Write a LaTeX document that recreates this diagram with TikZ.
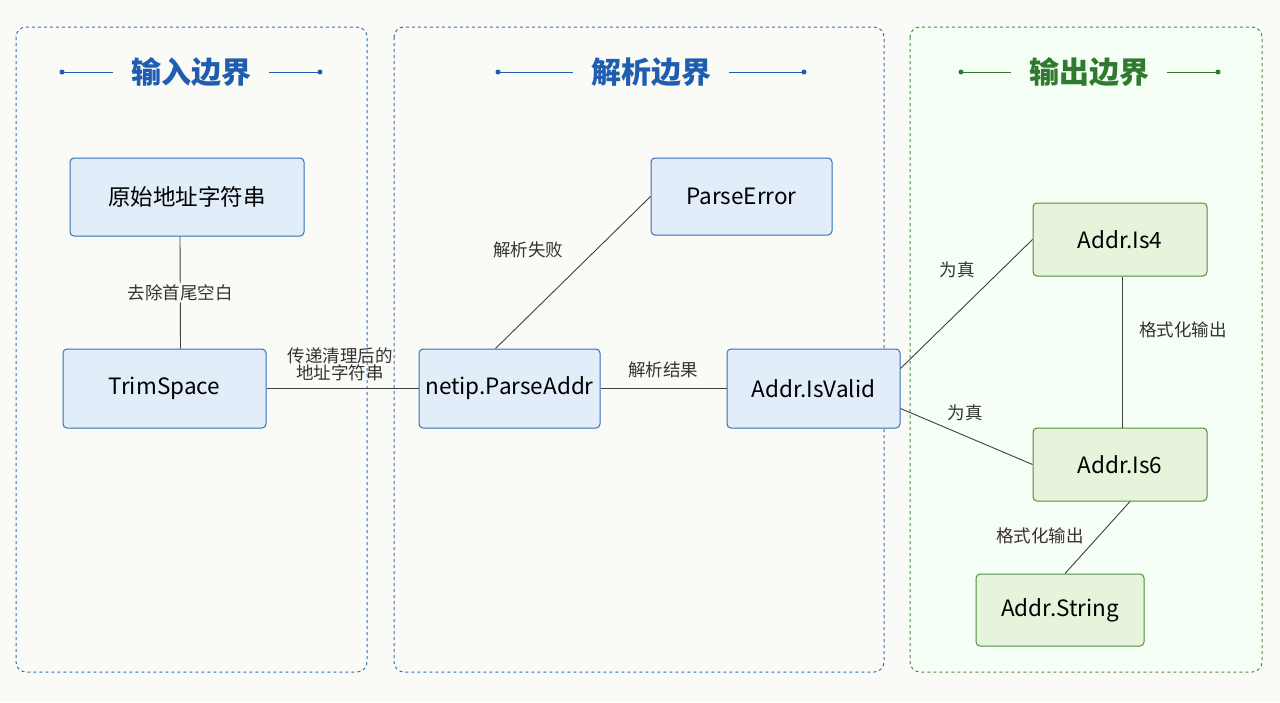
\documentclass[tikz,border=0pt]{standalone}
\usepackage{fontspec}
\setmainfont{Noto Sans CJK SC}
\begin{document}
\begin{tikzpicture}[x=1pt,y=-1pt,
  bnode/.style={draw=nblue,fill=nfill,rounded corners=4pt,line width=1pt,inner sep=0pt,font=\fontsize{22.5}{26}\selectfont},
  gnode/.style={draw=ngreen,fill=gfill,rounded corners=4pt,line width=1pt,inner sep=0pt,font=\fontsize{22.5}{26}\selectfont},
  lbl/.style={font=\fontsize{17.5}{21}\selectfont,text=black!80,fill=bg,inner sep=1.5pt,align=center},
  conn/.style={line width=0.9pt,draw=black!75},
  panel/.style={draw=#1,dashed,line width=1pt,rounded corners=10pt}]
\definecolor{bg}{HTML}{FAFAF6}
\definecolor{nblue}{HTML}{3470B8}
\definecolor{nfill}{HTML}{E2EDFA}
\definecolor{ngreen}{HTML}{4E8E3E}
\definecolor{gfill}{HTML}{E6F4DC}
\definecolor{tblue}{HTML}{1E5DB0}
\definecolor{tgreen}{HTML}{2E7A2E}
\fill[bg] (0,0) rectangle (1280,702);
\useasboundingbox (0,0) rectangle (1280,702);
\draw[panel=nblue] (16,27) rectangle (367,672);
\draw[panel=nblue] (394,27) rectangle (884,672);
\draw[panel=ngreen,fill=green!4] (910,27) rectangle (1262,672);
% titles
\node[font=\bfseries\fontsize{30}{34}\selectfont,text=tblue] (t1) at (191,72) {输入边界};
\node[font=\bfseries\fontsize{30}{34}\selectfont,text=tblue] (t2) at (651,72) {解析边界};
\node[font=\bfseries\fontsize{30}{34}\selectfont,text=tgreen] (t3) at (1089,72) {输出边界};
\foreach \c/\a/\b/\col in {191/62/320/tblue,651/498/804/tblue,1089/961/1218/tgreen}{
  \draw[\col,line width=1pt] (\a,72) -- (\c-78,72);
  \draw[\col,line width=1pt] (\c+78,72) -- (\b,72);
  \fill[\col] (\a,72) circle (2.5pt);
  \fill[\col] (\b,72) circle (2.5pt);
}
% nodes
\node[bnode,minimum width=234pt,minimum height=78pt] (raw) at (187,197) {原始地址字符串};
\node[bnode,minimum width=203pt,minimum height=79pt] (trim) at (164.5,388.5) {TrimSpace};
\node[bnode,minimum width=181pt,minimum height=79pt] (parse) at (509.5,388.5) {netip.ParseAddr};
\node[bnode,minimum width=181pt,minimum height=77pt] (perr) at (741.5,196.5) {ParseError};
\node[bnode,minimum width=173pt,minimum height=79pt] (valid) at (813.5,388.5) {Addr.IsValid};
\node[gnode,minimum width=174pt,minimum height=73pt] (is4) at (1120,239.5) {Addr.Is4};
\node[gnode,minimum width=174pt,minimum height=73pt] (is6) at (1120,464.5) {Addr.Is6};
\node[gnode,minimum width=168pt,minimum height=72pt] (str) at (1060,610) {Addr.String};
% edges
\draw[conn] ([xshift=-7pt]raw.south) -- ([xshift=16pt]trim.north) node[lbl,pos=0.5] {去除首尾空白};
\draw[conn] (trim) -- (parse);
\node[lbl,fill=none] (l2) at (340,364) {传递清理后的\\[-4pt]地址字符串};
\draw[conn] ([xshift=-14pt]parse.north) -- (perr.west);
\node[lbl] (l3) at (528,250) {解析失败};
\draw[conn] (parse) -- (valid);
\node[lbl,fill=none] (l4) at (663,370) {解析结果};
\draw[conn] ([yshift=20pt]valid.east) -- (is4.west);
\node[lbl,fill=none] (l5) at (957,270) {为真};
\draw[conn] ([yshift=-20pt]valid.east) -- (is6.west);
\node[lbl,fill=none] (l6) at (965,413) {为真};
\draw[conn] ([xshift=2pt]is4.south) -- ([xshift=2pt]is6.north);
\node[lbl,fill=none] (l7) at (1183,330) {格式化输出};
\draw[conn] ([xshift=10pt]is6.south) -- ([xshift=5pt]str.north);
\node[lbl] (l8) at (1040,536) {格式化输出};
\end{tikzpicture}
\end{document}
